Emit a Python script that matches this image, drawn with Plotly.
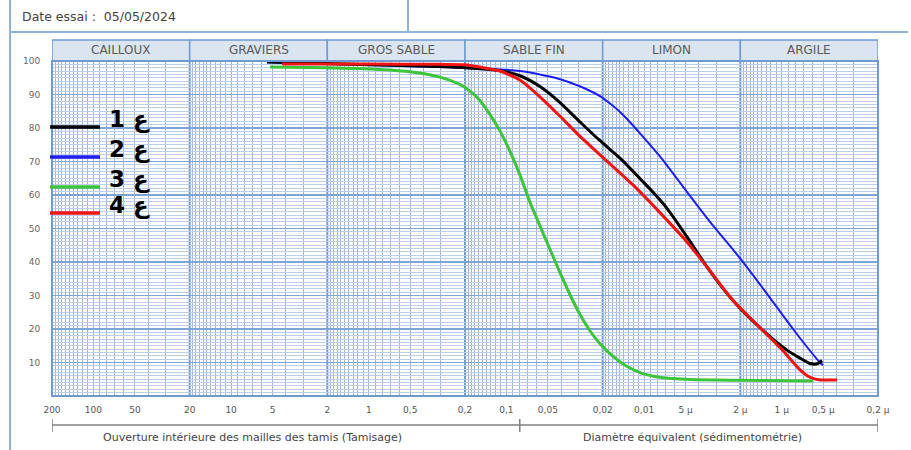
import numpy as np
import plotly.graph_objects as go

# ---------------- data ----------------
series_names = ["1 ع", "2 ع", "3 ع", "4 ع"]

size_1 = [5.49, 3.21, 0.98, 0.425, 0.2, 0.111, 0.0798, 0.0571, 0.0408, 0.0292, 0.0209, 0.01497,
          0.0102, 0.00834, 0.00682, 0.00488, 0.00349, 0.00226, 0.00144, 0.000917, 0.000737,
          0.000624, 0.000555, 0.00051]
pass_1 = [99.7, 99.5, 98.9, 98.5, 98.0, 97.1, 95.6, 92.4, 87.6, 81.8, 76.2, 71.0,
          64.0, 60.2, 56.0, 47.5, 38.5, 28.5, 20.4, 13.7, 11.3,
          9.7, 9.6, 10.6]

size_2 = [5.49, 0.2, 0.111, 0.0798, 0.0571, 0.0444, 0.0346, 0.0269, 0.0209, 0.0177, 0.01497,
          0.0127, 0.01071, 0.00767, 0.00522, 0.00332, 0.002, 0.00128, 0.000829, 0.000528,
          0.000502]
pass_2 = [99.6, 98.0, 97.5, 97.0, 96.0, 95.0, 93.6, 91.8, 89.5, 87.3, 84.8,
          81.8, 78.4, 71.5, 62.5, 52.0, 41.0, 30.5, 20.0, 10.0,
          9.2]

size_3 = [5.22, 2.0, 0.83, 0.5, 0.304, 0.218, 0.184, 0.156, 0.1316, 0.111, 0.0942, 0.0798,
          0.0674, 0.0571, 0.0483, 0.0408, 0.0346, 0.0292, 0.0247, 0.0209, 0.0168, 0.0133,
          0.0102, 0.0077, 0.0046, 0.002, 0.00059]
pass_3 = [98.2, 98.0, 97.5, 96.8, 95.2, 93.0, 91.0, 88.2, 84.0, 79.0, 73.0, 66.0,
          57.8, 50.8, 43.8, 36.8, 30.3, 24.3, 19.4, 15.6, 11.8, 8.8,
          6.7, 5.6, 4.9, 4.7, 4.5]

size_4 = [4.27, 0.98, 0.304, 0.2, 0.1556, 0.111, 0.0798, 0.0571, 0.0408, 0.0292, 0.0209, 0.01204,
          0.00682, 0.00488, 0.00349, 0.00226, 0.00144, 0.00098, 0.000737, 0.000624, 0.000528,
          0.000397]
pass_4 = [99.1, 99.1, 99.0, 98.9, 98.2, 97.0, 94.3, 89.3, 83.5, 77.5, 72.0, 63.0,
          52.5, 46.0, 38.5, 28.5, 20.4, 13.5, 7.8, 5.6, 4.8,
          4.8]

x_tick_vals = [200, 100, 50, 20, 10, 5, 2, 1, 0.5, 0.2, 0.1, 0.05, 0.02, 0.01, 0.005, 0.002,
               0.001, 0.0005, 0.0002]
x_tick_text = ["200", "100", "50", "20", "10", "5", "2", "1", "0,5", "0,2", "0,1", "0,05",
               "0,02", "0,01", "5 µ", "2 µ", "1 µ", "0,5 µ", "0,2 µ"]
y_tick_vals = [10, 20, 30, 40, 50, 60, 70, 80, 90, 100]

decade_bounds = [200, 20, 2, 0.2, 0.02, 0.002, 0.0002]
class_labels = ["CAILLOUX", "GRAVIERS", "GROS SABLE", "SABLE FIN", "LIMON", "ARGILE"]
method_split = 0.08
method_labels = ["Ouverture intérieure des mailles des tamis (Tamisage)",
                 "Diamètre équivalent (sédimentométrie)"]
date_text = "Date essai :  05/05/2024"

# ---------------- styles ----------------
colors = ["#000000", "#1e1ef0", "#3cc43c", "#f01414"]
widths = [3, 2, 3, 3]
draw_order = [1, 2, 0, 3]
sizes = [size_1, size_2, size_3, size_4]
passes = [pass_1, pass_2, pass_3, pass_4]

W, H = 911, 450
ML, MR, MT, MB = 52, 33, 61, 54
PW, PH = W - ML - MR, H - MT - MB


def px(x):
    return (x - ML) / PW


def py(y):
    return (H - MB - y) / PH


MAJOR = "#6f9bd1"
FRAME = "#8fb1dd"

fig = go.Figure()
for i in draw_order:
    fig.add_trace(go.Scatter(x=sizes[i], y=passes[i], mode="lines", name=series_names[i],
                             line=dict(color=colors[i], width=widths[i], shape="spline",
                                       smoothing=0.6),
                             showlegend=False, hoverinfo="skip"))

minor_x = []
for d in decade_bounds[:-1]:
    minor_x += [d / 20 * k for k in range(3, 20)]

shapes = []
annotations = []
# decade lines
for d in decade_bounds:
    shapes.append(dict(type="line", xref="x", yref="paper", x0=d, x1=d, y0=0, y1=1,
                       line=dict(color=MAJOR, width=2), layer="below"))
# header cells
for j, lab in enumerate(class_labels):
    a, b = decade_bounds[j], decade_bounds[j + 1]
    shapes.append(dict(type="rect", xref="x", yref="paper", x0=a, x1=b, y0=1.0, y1=py(40),
                       fillcolor="#dbe5f1", line=dict(color=MAJOR, width=1.5), layer="above"))
    annotations.append(dict(x=(np.log10(a) + np.log10(b)) / 2, y=py(50), xref="x", yref="paper",
                            text=lab, showarrow=False, xanchor="center", yanchor="middle",
                            font=dict(family="DejaVu Sans", size=12, color="#5a5a5a")))
# plot border
shapes.append(dict(type="rect", xref="paper", yref="paper", x0=0, x1=1, y0=0, y1=1,
                   line=dict(color=MAJOR, width=2), layer="above"))
# outer frame
shapes.append(dict(type="line", xref="paper", yref="paper", x0=px(10), x1=px(10), y0=py(0),
                   y1=py(450), line=dict(color=FRAME, width=2)))
shapes.append(dict(type="line", xref="paper", yref="paper", x0=px(10), x1=px(908), y0=py(32),
                   y1=py(32), line=dict(color=FRAME, width=2)))
shapes.append(dict(type="line", xref="paper", yref="paper", x0=px(408), x1=px(408), y0=py(0),
                   y1=py(32), line=dict(color=FRAME, width=2)))
annotations.append(dict(x=px(20), y=py(16), xref="paper", yref="paper", text=date_text,
                        showarrow=False, xanchor="left", yanchor="middle",
                        font=dict(family="DejaVu Sans", size=12.5, color="#444")))
# bottom brackets
shapes.append(dict(type="line", xref="x", yref="paper", x0=decade_bounds[0], x1=decade_bounds[-1],
                   y0=py(425), y1=py(425), line=dict(color="#808080", width=1.5)))
for v in [decade_bounds[0], method_split, decade_bounds[-1]]:
    shapes.append(dict(type="line", xref="x", yref="paper", x0=v, x1=v, y0=py(419), y1=py(432),
                       line=dict(color="#808080", width=1.5)))
for xc, lab in zip([252, 692], method_labels):
    annotations.append(dict(x=px(xc), y=py(437), xref="paper", yref="paper", text=lab,
                            showarrow=False, xanchor="center", yanchor="middle",
                            font=dict(family="DejaVu Sans", size=11, color="#444")))
# custom legend
leg_y = [127, 157, 187, 213]
for i in range(4):
    shapes.append(dict(type="line", xref="paper", yref="paper", x0=px(50), x1=px(100),
                       y0=py(leg_y[i]), y1=py(leg_y[i]),
                       line=dict(color=colors[i], width=3.5)))
    annotations.append(dict(x=px(107), y=py(leg_y[i] - 8), xref="paper", yref="paper",
                            text="<b>" + series_names[i] + "</b>", showarrow=False,
                            xanchor="left", yanchor="middle",
                            font=dict(family="DejaVu Sans", size=23, color="#000")))

fig.update_layout(
    width=W, height=H, margin=dict(l=ML, r=MR, t=MT, b=MB),
    paper_bgcolor="white", plot_bgcolor="white",
    shapes=shapes, annotations=annotations,
    xaxis=dict(type="log", range=[np.log10(200), np.log10(0.0002)], tickmode="array",
               tickvals=x_tick_vals, ticktext=x_tick_text, showgrid=False, zeroline=False,
               showline=False, ticks="outside", ticklen=5, tickcolor="rgba(0,0,0,0)",
               tickfont=dict(family="DejaVu Sans", size=9, color="#555"),
               minor=dict(tickmode="array", tickvals=minor_x, showgrid=True,
                          gridcolor="#a3b5cf", gridwidth=1, ticks="")),
    yaxis=dict(range=[0, 100], tickmode="array", tickvals=y_tick_vals, showgrid=True,
               gridcolor="#7ea5d6", gridwidth=1.5, zeroline=False, showline=False,
               side="left", ticklabelposition="outside",
               ticks="outside", ticklen=9, tickcolor="rgba(0,0,0,0)",
               tickfont=dict(family="DejaVu Sans", size=9, color="#666"),
               minor=dict(dtick=1, showgrid=True, gridcolor="#bccfea", gridwidth=1, ticks="")),
)

fig.write_html("out.html", config={"displayModeBar": False, "staticPlot": True},
               post_script="document.body.style.margin='0px';document.body.style.overflow='hidden';")
